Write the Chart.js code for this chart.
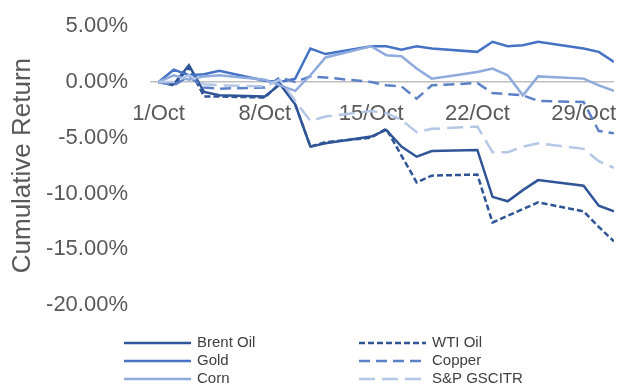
<!DOCTYPE html>
<html>
<head>
<meta charset="utf-8">
<script src="https://cdn.jsdelivr.net/npm/chart.js"></script>
<style>
  html, body { margin: 0; padding: 0; background: #fff; overflow: hidden; }
  #chart { display: block; margin-top: -10px; }
</style>
</head>
<body>
<canvas id="chart" width="635" height="395"></canvas>
<script>
// trading days of October (day of month)
const tradingDays = [1, 2, 3, 4, 5, 8, 9, 10, 11, 12, 15, 16, 17, 18, 19, 22, 23, 24, 25, 26, 29, 30, 31];

// cumulative returns in %
const brentOil = [0, -0.2, 1.5, -0.9, -1.2, -1.3, -0.2, -2.0, -5.8, -5.5, -4.9, -4.3, -5.8, -6.7, -6.2, -6.1, -10.3, -10.7, -9.7, -8.8, -9.3, -11.1, -11.6];
const wtiOil = [0, -0.3, 1.3, -1.3, -1.3, -1.4, -0.1, -2.0, -5.8, -5.4, -5.0, -4.2, -6.6, -9.0, -8.4, -8.3, -12.6, -12.0, -11.4, -10.8, -11.6, -13.0, -14.3];
const gold = [0, 1.1, 0.6, 0.7, 1.0, 0.1, 0.0, 0.3, 3.0, 2.5, 3.2, 3.2, 2.9, 3.2, 3.0, 2.7, 3.6, 3.2, 3.3, 3.6, 3.0, 2.7, 1.8];
const copper = [0, -0.3, 0.5, -0.5, -0.6, -0.5, 0.4, 0.0, 0.5, 0.4, 0.0, -0.3, -0.4, -1.5, -0.3, -0.1, -1.0, -1.1, -1.2, -1.7, -1.8, -4.4, -4.6];
const corn = [0, 0.6, 0.2, 0.5, 0.6, 0.2, -0.3, -0.8, 0.6, 2.2, 3.2, 2.4, 2.3, 1.2, 0.3, 0.9, 1.2, 0.6, -1.2, 0.5, 0.3, -0.3, -0.8];
const spGsci = [0, 0.0, 0.6, -0.2, -0.3, -0.4, 0.2, -1.7, -3.5, -3.1, -2.6, -2.8, -3.4, -4.5, -4.2, -4.0, -6.3, -6.3, -5.8, -5.5, -6.0, -7.1, -7.7];

const seriesNames = ['Brent Oil', 'WTI Oil', 'Gold', 'Copper', 'Corn', 'S&P GSCITR'];

const xTickDays = [1, 8, 15, 22, 29];
const xTickLabels = ['1/Oct', '8/Oct', '15/Oct', '22/Oct', '29/Oct'];
const yTicks = [5, 0, -5, -10, -15, -20];

function pts(values) {
  return tradingDays.map((d, i) => ({ x: d, y: values[i] }));
}

const styles = [
  { color: '#2F5597', dash: [] },
  { color: '#2F5597', dash: [6, 3] },
  { color: '#4472C4', dash: [] },
  { color: '#5B80C8', dash: [11, 6] },
  { color: '#8FAADC', dash: [] },
  { color: '#B4C7E7', dash: [16, 7] },
];

const allValues = [brentOil, wtiOil, gold, copper, corn, spGsci];
const FONT = '"Liberation Sans", Arial, sans-serif';

// legend in two columns, three rows like the original
// (canvas is shifted up 10px, so rows are +10)
const sideLegend = {
  id: 'sideLegend',
  afterDraw(chart) {
    const ctx = chart.ctx;
    const cols = [124, 359];
    const rows = [353, 371, 389];
    ctx.save();
    ctx.font = '15px ' + FONT;
    ctx.textBaseline = 'middle';
    chart.data.datasets.forEach((ds, i) => {
      const x = cols[i % 2];
      const y = rows[Math.floor(i / 2)];
      ctx.strokeStyle = ds.borderColor;
      ctx.lineWidth = ds.borderWidth;
      ctx.setLineDash(ds.borderDash || []);
      ctx.beginPath();
      ctx.moveTo(x, y);
      ctx.lineTo(x + 67, y);
      ctx.stroke();
      ctx.setLineDash([]);
      ctx.fillStyle = '#404040';
      ctx.fillText(ds.label, x + 73, y);
    });
    ctx.restore();
  }
};

new Chart(document.getElementById('chart'), {
  type: 'line',
  data: {
    datasets: allValues.map((vals, i) => ({
      label: seriesNames[i],
      data: pts(vals),
      borderColor: styles[i].color,
      borderDash: styles[i].dash,
      borderWidth: 2.5,
      pointRadius: 0,
      tension: 0,
      fill: false,
      order: 6 - i
    }))
  },
  options: {
    responsive: false,
    animation: false,
    layout: { padding: { top: 0, left: 0, right: 0, bottom: 80 } },
    plugins: {
      legend: { display: false },
      tooltip: { enabled: false }
    },
    scales: {
      x: {
        type: 'linear',
        position: { y: 0 },
        min: 0.5,
        max: 31,
        grid: { display: false, drawTicks: false },
        border: { display: true, color: '#BFBFBF', width: 1.5 },
        afterBuildTicks(scale) {
          scale.ticks = xTickDays.map(v => ({ value: v }));
        },
        ticks: {
          autoSkip: false,
          maxRotation: 0,
          padding: 19,
          color: '#595959',
          font: { family: FONT, size: 22 },
          callback: (v) => xTickLabels[xTickDays.indexOf(v)]
        }
      },
      y: {
        min: -20,
        max: 5,
        grid: { display: false, drawTicks: false },
        border: { display: false },
        afterBuildTicks(scale) {
          scale.ticks = yTicks.map(v => ({ value: v }));
        },
        afterFit(scale) {
          scale.width = 151;
        },
        ticks: {
          padding: 23,
          color: '#595959',
          font: { family: FONT, size: 22 },
          callback: (v) => v.toFixed(2) + '%'
        },
        title: {
          display: true,
          text: 'Cumulative Return',
          color: '#595959',
          font: { family: FONT, size: 26 },
          padding: { top: 7, bottom: 0 }
        }
      }
    }
  },
  plugins: [sideLegend]
});
</script>
</body>
</html>
